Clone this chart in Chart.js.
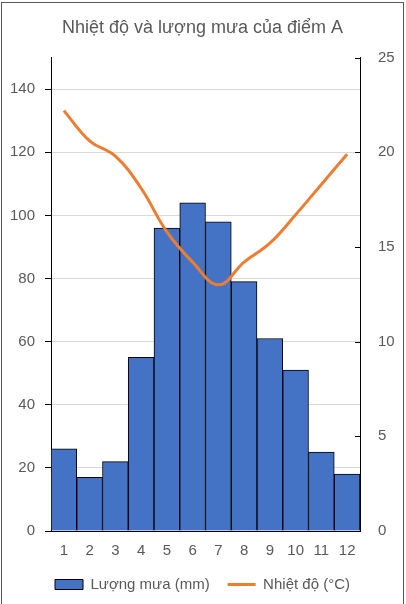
<!DOCTYPE html>
<html>
<head>
<meta charset="utf-8">
<script src="https://cdn.jsdelivr.net/npm/chart.js@4"></script>
<style>
    html, body { margin: 0; padding: 0; background: #fff; }
    #box {
        position: absolute;
        left: 1px;
        top: 2px;
        width: 401px;
        height: 640px;
        border: 1px solid #595959;
    }
    #wrap { position: absolute; left: 0; top: 0; width: 401px; height: 601px; }
</style>
</head>
<body>
<div id="box">
    <div id="wrap"><canvas id="climateChart"></canvas></div>
</div>
<script>
// data
const months = ["1", "2", "3", "4", "5", "6", "7", "8", "9", "10", "11", "12"];
const rainfall = [26, 17, 22, 55, 96, 104, 98, 79, 61, 51, 25, 18];
const temperature = [22.2, 20.6, 19.8, 18.1, 15.8, 14.2, 13.0, 14.2, 15.2, 16.7, 18.3, 19.9];
const rainTicks = [0, 20, 40, 60, 80, 100, 120, 140];
const tempTicks = [0, 5, 10, 15, 20, 25];

const grey = "#595959";
const fontName = "'Liberation Sans', Arial, sans-serif";

// right axis ticks point inward in the reference
const innerTicks = {
    id: "innerTicks",
    afterDraw(chart) {
        const scale = chart.scales.yTemp;
        const ctx = chart.ctx;
        ctx.save();
        ctx.strokeStyle = "#000";
        ctx.lineWidth = 1;
        tempTicks.forEach(v => {
            const y = Math.round(scale.getPixelForValue(v)) + 0.5;
            ctx.beginPath();
            ctx.moveTo(scale.left - 5, y);
            ctx.lineTo(scale.left, y);
            ctx.stroke();
        });
        ctx.restore();
    }
};

const ctx = document.getElementById("climateChart").getContext("2d");

new Chart(ctx, {
    data: {
        labels: months,
        datasets: [
            {
                type: "bar",
                label: "Lượng mưa (mm)",
                data: rainfall,
                yAxisID: "yRain",
                backgroundColor: "#4472C4",
                borderColor: "#000",
                borderWidth: 1,
                barPercentage: 1,
                categoryPercentage: 1,
                pointStyle: "rect",
                order: 1
            },
            {
                type: "line",
                label: "Nhiệt độ (°C)",
                data: temperature,
                yAxisID: "yTemp",
                borderColor: "#ED7D31",
                backgroundColor: "#ED7D31",
                borderWidth: 3,
                pointRadius: 0,
                pointStyle: "line",
                tension: 0.4,
                fill: false,
                order: 0
            }
        ]
    },
    options: {
        responsive: true,
        maintainAspectRatio: false,
        animation: false,
        layout: { padding: { left: 0, right: 0, top: 0, bottom: 2 } },
        plugins: {
            title: {
                display: true,
                text: "Nhiệt độ và lượng mưa của điểm A",
                color: grey,
                font: { family: fontName, size: 18, weight: "normal" },
                padding: { top: 14, bottom: 19 }
            },
            legend: {
                position: "bottom",
                reverse: true,
                labels: {
                    color: grey,
                    font: { family: fontName, size: 15 },
                    usePointStyle: true,
                    pointStyleWidth: 28,
                    boxHeight: 10,
                    padding: 18
                }
            },
            tooltip: { enabled: false }
        },
        scales: {
            x: {
                offset: true,
                afterFit(scale) { scale.height = 28; },
                grid: { display: false },
                border: { color: "#000", width: 1 },
                ticks: {
                    color: grey,
                    font: { family: fontName, size: 15 },
                    padding: 3,
                    maxRotation: 0
                }
            },
            yRain: {
                position: "left",
                min: 0,
                max: 150,
                afterFit(scale) { scale.width = 49; },
                afterBuildTicks(scale) { scale.ticks = rainTicks.map(v => ({ value: v })); },
                grid: { color: "#D9D9D9", tickColor: "#000", tickLength: 6 },
                border: { color: "#000", width: 1 },
                ticks: {
                    color: grey,
                    font: { family: fontName, size: 15 },
                    padding: 10
                }
            },
            yTemp: {
                position: "right",
                min: 0,
                max: 25,
                afterFit(scale) { scale.width = 43; },
                afterBuildTicks(scale) { scale.ticks = tempTicks.map(v => ({ value: v })); },
                grid: { drawOnChartArea: false, drawTicks: false },
                border: { color: "#000", width: 1 },
                ticks: {
                    color: grey,
                    font: { family: fontName, size: 15 },
                    padding: 18
                }
            }
        }
    },
    plugins: [innerTicks]
});
</script>
</body>
</html>
